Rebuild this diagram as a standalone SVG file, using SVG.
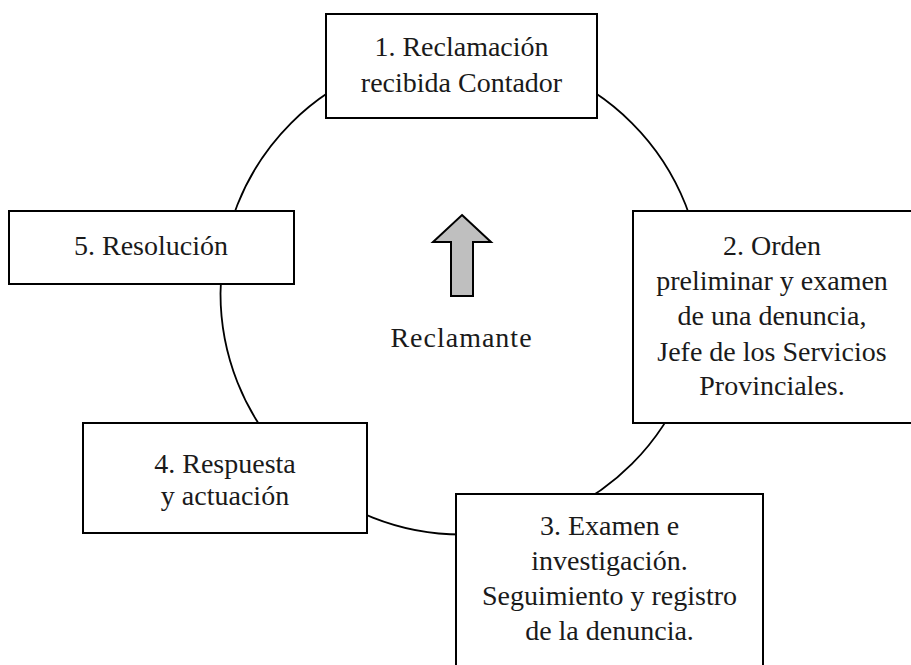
<svg xmlns="http://www.w3.org/2000/svg" width="911" height="665" viewBox="0 0 911 665">
<style>
.box{fill:#fff;stroke:#000;stroke-width:2}
.t{font-family:"Liberation Serif","Times New Roman",serif;font-size:28px;fill:#1a1a1a;text-anchor:middle}
.ring{fill:none;stroke:#000;stroke-width:1.8}
</style>
<rect width="911" height="665" fill="#fff"/>
<g id="connectors">
<circle class="ring" cx="461.5" cy="293.5" r="241"/>
</g>
<g id="node1">
<rect class="box" x="326" y="14" width="271" height="104"/>
<text class="t" x="461.5" y="56">1. Reclamación</text>
<text class="t" x="461.5" y="92">recibida Contador</text>
</g>
<g id="node2">
<rect class="box" x="633" y="211" width="285" height="212"/>
<text class="t" x="772" y="255">2. Orden</text>
<text class="t" x="772" y="290">preliminar y examen</text>
<text class="t" x="772" y="325">de una denuncia,</text>
<text class="t" x="772" y="361">Jefe de los Servicios</text>
<text class="t" x="772" y="395">Provinciales.</text>
</g>
<g id="node3">
<rect class="box" x="456" y="494" width="307" height="180"/>
<text class="t" x="609.5" y="535">3. Examen e</text>
<text class="t" x="609.5" y="570">investigación.</text>
<text class="t" x="609.5" y="605">Seguimiento y registro</text>
<text class="t" x="609.5" y="640">de la denuncia.</text>
</g>
<g id="node4">
<rect class="box" x="83" y="423" width="284" height="110"/>
<text class="t" x="225" y="473">4. Respuesta</text>
<text class="t" x="225" y="505">y actuación</text>
</g>
<g id="node5">
<rect class="box" x="9" y="211" width="285" height="73"/>
<text class="t" x="151" y="255">5. Resolución</text>
</g>
<g id="center">
<polygon points="462,215 491,242 473,242 473,296 451,296 451,242 433,242" fill="#bfbfbf" stroke="#000" stroke-width="2" stroke-linejoin="miter"/>
<text class="t" x="461.5" y="347" style="letter-spacing:1px">Reclamante</text>
</g>
</svg>
